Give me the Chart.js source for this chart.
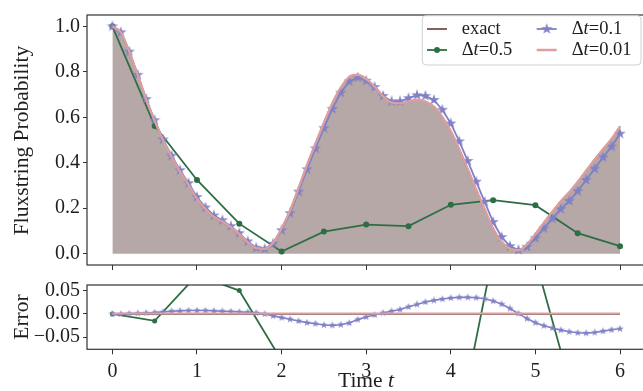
<!DOCTYPE html>
<html><head><meta charset="utf-8">
<script src="https://cdn.jsdelivr.net/npm/chart.js@4.4.0/dist/chart.umd.min.js"></script>
<style>
html,body{margin:0;padding:0;background:#fff;overflow:hidden;width:643px;height:391px;}
#c1{position:absolute;left:0;top:0;}
#c2{position:absolute;left:0;top:270px;}
</style></head><body>
<canvas id="c1" width="660" height="280"></canvas>
<canvas id="c2" width="660" height="121"></canvas>
<script>
// ---------- data ----------
const tFine = [0.0,0.1,0.2,0.3,0.4,0.5,0.6,0.7,0.8,0.9,1.0,1.1,1.2,1.3,1.4,1.5,1.6,1.7,1.8,1.9,2.0,2.1,2.2,2.3,2.4,2.5,2.6,2.7,2.8,2.9,3.0,3.1,3.2,3.3,3.4,3.5,3.6,3.7,3.8,3.9,4.0,4.1,4.2,4.3,4.4,4.5,4.6,4.7,4.8,4.9,5.0,5.1,5.2,5.3,5.4,5.5,5.6,5.7,5.8,5.9,6.0];
const tCoarse = [0.0,0.5,1.0,1.5,2.0,2.5,3.0,3.5,4.0,4.5,5.0,5.5,6.0];

const exactP = [1.000,0.974,0.888,0.786,0.678,0.584,0.498,0.425,0.360,0.303,0.242,0.196,0.161,0.141,0.116,0.086,0.050,0.024,0.021,0.048,0.111,0.190,0.288,0.390,0.484,0.576,0.662,0.731,0.778,0.787,0.768,0.735,0.692,0.664,0.661,0.669,0.677,0.669,0.647,0.601,0.539,0.459,0.373,0.282,0.195,0.111,0.052,0.021,0.015,0.040,0.087,0.136,0.184,0.231,0.270,0.316,0.365,0.414,0.461,0.505,0.560];
const dt001P = [1.000,0.974,0.888,0.786,0.678,0.584,0.498,0.425,0.360,0.303,0.242,0.196,0.161,0.141,0.116,0.086,0.050,0.024,0.021,0.048,0.111,0.190,0.288,0.390,0.484,0.576,0.662,0.731,0.778,0.787,0.768,0.735,0.692,0.664,0.661,0.669,0.677,0.669,0.647,0.601,0.539,0.459,0.373,0.282,0.195,0.111,0.052,0.021,0.015,0.040,0.087,0.136,0.184,0.231,0.270,0.316,0.365,0.414,0.461,0.505,0.560];
const dt01P = [1.000,0.974,0.889,0.787,0.680,0.587,0.502,0.431,0.367,0.310,0.249,0.203,0.168,0.147,0.121,0.090,0.054,0.026,0.021,0.044,0.103,0.178,0.273,0.371,0.463,0.552,0.637,0.708,0.758,0.775,0.761,0.733,0.694,0.670,0.670,0.684,0.697,0.694,0.676,0.633,0.573,0.494,0.408,0.317,0.228,0.139,0.073,0.033,0.016,0.030,0.068,0.111,0.154,0.196,0.232,0.275,0.324,0.374,0.424,0.471,0.528];
const dt05P = [1.000,0.562,0.324,0.132,0.009,0.097,0.128,0.121,0.215,0.235,0.213,0.090,0.033];

const errExact = [0,0,0,0,0,0,0,0,0,0,0,0,0,0,0,0,0,0,0,0,0,0,0,0,0,0,0,0,0,0,0,0,0,0,0,0,0,0,0,0,0,0,0,0,0,0,0,0,0,0,0,0,0,0,0,0,0,0,0,0,0];
const err001 = [0.0008,0.0008,0.0008,0.0008,0.0008,0.0008,0.0008,0.0008,0.0008,0.0008,0.0008,0.0008,0.0008,0.0008,0.0008,0.0008,0.0008,0.0008,0.0008,0.0008,0.0008,0.0008,0.0008,0.0008,0.0008,0.0008,0.0008,0.0008,0.0008,0.0008,0.0008,0.0008,0.0008,0.0008,0.0008,0.0008,0.0008,0.0008,0.0008,0.0008,0.0008,0.0008,0.0008,0.0008,0.0008,0.0008,0.0008,0.0008,0.0008,0.0008,0.0008,0.0008,0.0008,0.0008,0.0008,0.0008,0.0008,0.0008,0.0008,0.0008,0.0008];
const err01 = [0,0,0.0007,0.0014,0.0022,0.0029,0.0043,0.0058,0.0065,0.0072,0.0072,0.0072,0.0065,0.0058,0.0051,0.0043,0.0036,0.0022,0.0,-0.0043,-0.0080,-0.0116,-0.0152,-0.0188,-0.0210,-0.0239,-0.0246,-0.0232,-0.0196,-0.0123,-0.0065,-0.0022,0.0022,0.0058,0.0094,0.0152,0.0203,0.0254,0.0290,0.0319,0.0341,0.0355,0.0355,0.0348,0.0326,0.0276,0.0210,0.0116,0.0007,-0.0101,-0.0188,-0.0254,-0.0304,-0.0348,-0.0384,-0.0406,-0.0413,-0.0399,-0.0370,-0.0341,-0.0319];
const err05 = [0.000,-0.015,0.083,0.050,-0.100,-0.480,-0.640,-0.548,-0.324,0.127,0.116,-0.210,-0.527];

const xTicks = [0,1,2,3,4,5,6];
const yTicksTop = [0.0,0.2,0.4,0.6,0.8,1.0];
const yTicksErr = [-0.05,0.0,0.05];

// ---------- style ----------
const FONT = '"Liberation Serif", "DejaVu Serif", serif';
const TXT = '#1e1e1e';
const SPINE = '#333333';
const cBrown = '#5a2e2e';
const cFill = 'rgb(181,168,167)';
const cGreen = '#2e6e44';
const cPurple = '#8080c6';
const cPink = '#dca0a0';

function pts(xs, ys){ return xs.map((x,i)=>({x:x, y:ys[i]})); }
function makeStar(size, color){
  const c=document.createElement('canvas'); c.width=c.height=size;
  const g=c.getContext('2d'); const R=size/2, r=R*0.382;
  g.beginPath();
  for(let k=0;k<10;k++){ const a=-Math.PI/2+k*Math.PI/5; const rad=(k%2)?r:R; g.lineTo(R+rad*Math.cos(a), R+rad*Math.sin(a)); }
  g.closePath(); g.fillStyle=color; g.fill(); return c;
}
const starBig = makeStar(12, cPurple);
const starSmall = makeStar(8, cPurple);

function drawRich(ctx, parts, x, y, size, align){
  let total=0; const ws=[];
  parts.forEach(p=>{ ctx.font=(p[1]?'italic ':'')+size+'px '+FONT; const w=ctx.measureText(p[0]).width; ws.push(w); total+=w; });
  let cx = align==='center' ? x-total/2 : x;
  ctx.textAlign='left'; ctx.textBaseline='middle'; ctx.fillStyle=TXT;
  parts.forEach((p,i)=>{ ctx.font=(p[1]?'italic ':'')+size+'px '+FONT; ctx.fillText(p[0], cx, y); cx+=ws[i]; });
}

const framePlugin = { id:'frame', afterDatasetsDraw(chart){
  const a=chart.chartArea, ctx=chart.ctx; ctx.save(); ctx.strokeStyle=SPINE; ctx.lineWidth=1.2;
  ctx.strokeRect(a.left, a.top, a.right-a.left, a.bottom-a.top); ctx.restore(); } };

function xScale(showLabels, h){
  return { type:'linear', min:-0.3, max:6.3,
    afterBuildTicks: s=>{ s.ticks = xTicks.map(v=>({value:v})); },
    ticks:{ display:showLabels, color:TXT, font:{family:FONT, size:20}, padding:5, maxRotation:0,
      callback: v=>String(v) },
    grid:{ drawOnChartArea:false, drawTicks:true, tickLength:5, tickColor:SPINE, tickWidth:1 },
    border:{ display:false },
    afterFit: s=>{ s.height = h; } };
}

const topTitles = { id:'topTitles', afterDraw(chart){
  const ctx=chart.ctx; ctx.save();
  ctx.translate(22, 140.5); ctx.rotate(-Math.PI/2);
  ctx.textAlign='center'; ctx.textBaseline='middle'; ctx.fillStyle=TXT; ctx.font='21.5px '+FONT;
  ctx.fillText('Fluxstring Probability', 0, 0); ctx.restore();
  // legend
  ctx.save();
  const bx=422.3, by=15.7, bw=218.7, bh=49.3, r=4;
  ctx.beginPath(); ctx.roundRect(bx,by,bw,bh,r);
  ctx.fillStyle='rgba(255,255,255,0.85)'; ctx.fill();
  ctx.strokeStyle='#d0d0d0'; ctx.lineWidth=1; ctx.stroke();
  const rows=[29,50];
  function seg(x0,x1,y,col,lw){ ctx.beginPath(); ctx.moveTo(x0,y); ctx.lineTo(x1,y); ctx.strokeStyle=col; ctx.lineWidth=lw; ctx.stroke(); }
  const LS = 18.5;
  seg(427,447,rows[0],cBrown,1.5);
  drawRich(ctx,[['exact',false]],461.7,rows[0],LS,'left');
  seg(427,447,rows[1],cGreen,1.8);
  ctx.beginPath(); ctx.arc(437,rows[1],3,0,Math.PI*2); ctx.fillStyle=cGreen; ctx.fill();
  drawRich(ctx,[['Δ',false],['t',true],['=0.5',false]],461.7,rows[1],LS,'left');
  seg(536.7,556.7,rows[0],cPurple,1.8);
  ctx.drawImage(starBig,546.7-6,rows[0]-6);
  drawRich(ctx,[['Δ',false],['t',true],['=0.1',false]],571.7,rows[0],LS,'left');
  seg(536.7,556.7,rows[1],cPink,2.5);
  drawRich(ctx,[['Δ',false],['t',true],['=0.01',false]],571.7,rows[1],LS,'left');
  ctx.restore();
} };

const botTitles = { id:'botTitles', afterDraw(chart){
  const ctx=chart.ctx; ctx.save();
  ctx.translate(22, 47); ctx.rotate(-Math.PI/2);
  ctx.textAlign='center'; ctx.textBaseline='middle'; ctx.fillStyle=TXT; ctx.font='21.5px '+FONT;
  ctx.fillText('Error', 0, 0); ctx.restore();
  ctx.save();
  drawRich(ctx,[['Time ',false],['t',true]],366,111,21.5,'center');
  ctx.restore();
} };

const common = { responsive:false, devicePixelRatio:1, animation:false,
  plugins:{ legend:{display:false}, tooltip:{enabled:false} } };

new Chart(document.getElementById('c1'), {
  type:'line',
  data:{ datasets:[
    { label:'Δt=0.01', data:pts(tFine,dt001P), borderColor:cPink, borderWidth:2.3, pointRadius:0, cubicInterpolationMode:'monotone', fill:false, order:0 },
    { label:'Δt=0.1', data:pts(tFine,dt01P), borderColor:cPurple, borderWidth:1.8, pointStyle:starBig, pointRadius:5, tension:0, fill:false, order:1 },
    { label:'Δt=0.5', data:pts(tCoarse,dt05P), borderColor:cGreen, borderWidth:1.8, pointStyle:'circle', pointRadius:3, pointBackgroundColor:cGreen, pointBorderWidth:0, tension:0, fill:false, order:2 },
    { label:'exact', data:pts(tFine,exactP), borderColor:cBrown, borderWidth:1.5, pointRadius:0, cubicInterpolationMode:'monotone', fill:'origin', backgroundColor:cFill, order:3 }
  ]},
  options:Object.assign({}, common, {
    layout:{ padding:{ left:0, right:14.6, top:12, bottom:0 } },
    scales:{
      x: xScale(false, 11),
      y: { min:-0.05, max:1.05,
        afterBuildTicks: s=>{ s.ticks = yTicksTop.map(v=>({value:v})); },
        ticks:{ color:TXT, font:{family:FONT, size:20}, padding:3, callback: v=>v.toFixed(1) },
        grid:{ drawOnChartArea:false, drawTicks:true, tickLength:4, tickColor:SPINE, tickWidth:1 },
        border:{ display:false },
        afterFit: s=>{ s.width = 87; } }
    }
  }),
  plugins:[framePlugin, topTitles]
});

new Chart(document.getElementById('c2'), {
  type:'line',
  data:{ datasets:[
    { label:'Δt=0.01', data:pts(tFine,err001), borderColor:cPink, borderWidth:2.2, pointRadius:0, fill:false, order:0 },
    { label:'Δt=0.1', data:pts(tFine,err01), borderColor:cPurple, borderWidth:1.6, pointStyle:starSmall, pointRadius:4, tension:0, fill:false, order:1 },
    { label:'Δt=0.5', data:pts(tCoarse,err05), borderColor:cGreen, borderWidth:1.8, pointStyle:'circle', pointRadius:2.5, pointBackgroundColor:cGreen, pointBorderWidth:0, tension:0, fill:false, clip:0, order:2 },
    { label:'exact', data:pts(tFine,errExact), borderColor:cBrown, borderWidth:1.5, pointRadius:0, fill:false, order:3 }
  ]},
  options:Object.assign({}, common, {
    layout:{ padding:{ left:0, right:14.6, top:14.7, bottom:0 } },
    scales:{
      x: xScale(true, 41.7),
      y: { min:-0.076, max:0.062,
        afterBuildTicks: s=>{ s.ticks = yTicksErr.map(v=>({value:v})); },
        ticks:{ color:TXT, font:{family:FONT, size:20}, padding:3,
          callback: v=> (v<0?'\u2212':'') + Math.abs(v).toFixed(2) },
        grid:{ drawOnChartArea:false, drawTicks:true, tickLength:4, tickColor:SPINE, tickWidth:1 },
        border:{ display:false },
        afterFit: s=>{ s.width = 87; } }
    }
  }),
  plugins:[framePlugin, botTitles]
});
</script>
</body></html>
